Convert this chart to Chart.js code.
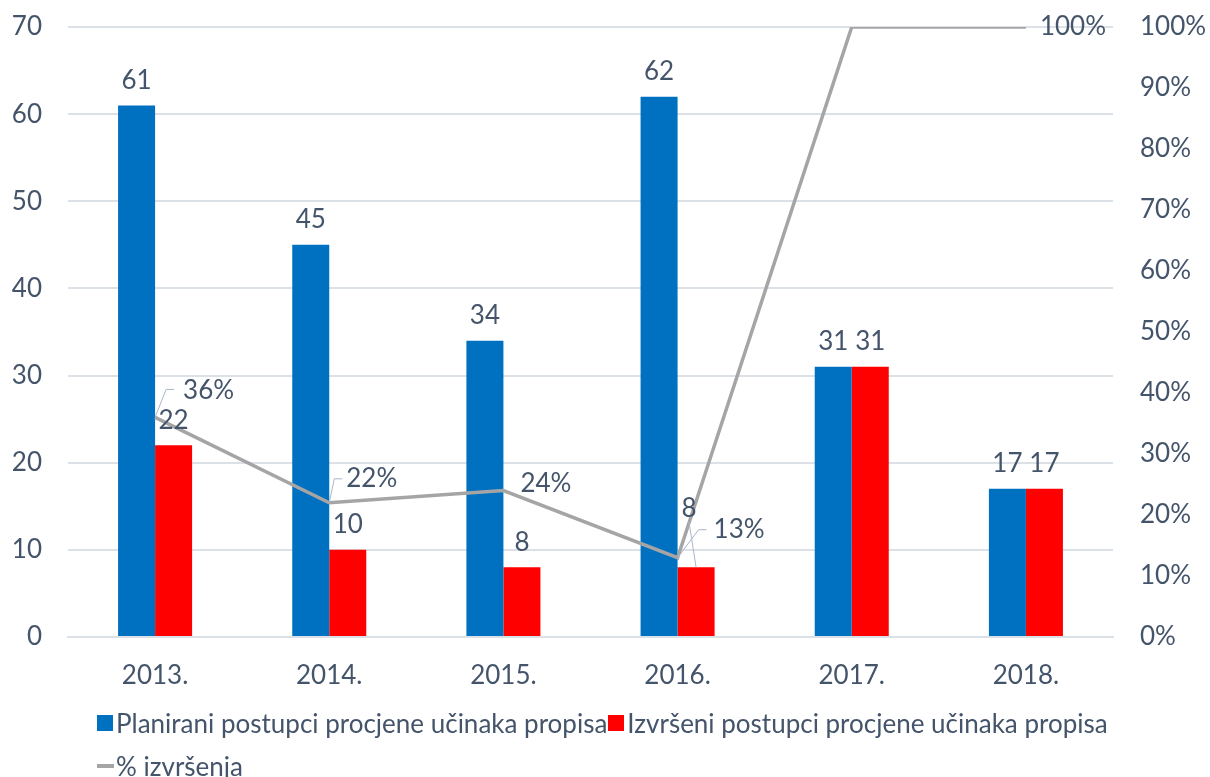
<!DOCTYPE html>
<html>
<head>
<meta charset="utf-8">
<script src="https://cdn.jsdelivr.net/npm/chart.js@4.4.0/dist/chart.umd.min.js"></script>
<style>
  html, body { margin: 0; padding: 0; background: #fff; }
  #wrap { position: relative; width: 1210px; height: 777px; }
  #legend { position: absolute; left: 97px; top: 707px; font-family: Lato, sans-serif; font-size: 26px; color: #44546A; }
  .row { display: flex; align-items: center; height: 32px; margin-bottom: 11px; white-space: nowrap; }
  .box { width: 16px; height: 16px; margin-right: 3px; }
  .ln { width: 17px; height: 4px; background: #A5A5A5; margin-right: 2px; }
  .item { display: flex; align-items: center; margin-right: 1px; }
</style>
</head>
<body>
<div id="wrap">
  <canvas id="chart" width="1210" height="777"></canvas>
  <div id="legend">
    <div class="row">
      <div class="item"><div class="box" style="background:#0070C0"></div>Planirani postupci procjene učinaka propisa</div>
      <div class="item"><div class="box" style="background:#FF0000"></div>Izvršeni postupci procjene učinaka propisa</div>
    </div>
    <div class="row">
      <div class="item"><div class="ln"></div>% izvršenja</div>
    </div>
  </div>
</div>
<script>
const years = ['2013.', '2014.', '2015.', '2016.', '2017.', '2018.'];
const planned = [61, 45, 34, 62, 31, 17];
const executed = [22, 10, 8, 8, 31, 17];
const percentDone = [36, 22, 24, 13, 100, 100];

const textColor = '#44546A';
const gridColor = '#DCE1E8';

// label nudges (where the original moved labels by hand)
const executedLabelShift = [[0, 0], [0, 0], [0, 0], [-7, -34], [0, 0], [0, 0]];
const pctLabelPos = [
  { lead: [11, -28], dx: 28, dy: -27 },
  { lead: [5, -24], dx: 17, dy: -24 },
  { lead: null, dx: 17, dy: -7 },
  { lead: [21, -28], dx: 36, dy: -28 },
  null,
  { lead: null, dx: 14, dy: 0 }
];

const labelPlugin = {
  id: 'labels',
  afterDatasetsDraw(chart) {
    const c = chart.ctx;
    c.save();
    c.font = '26px Lato';
    c.fillStyle = textColor;
    c.textBaseline = 'middle';

    const blue = chart.getDatasetMeta(0).data;
    const red = chart.getDatasetMeta(1).data;
    blue.forEach((b, i) => {
      c.textAlign = 'center';
      c.fillText(planned[i], b.x, b.y - 25);
    });
    red.forEach((b, i) => {
      const [sx, sy] = executedLabelShift[i];
      const lx = b.x + sx, ly = b.y - 25 + sy;
      if (sy < -30) {
        c.strokeStyle = '#A9B6CA';
        c.lineWidth = 1;
        c.beginPath();
        c.moveTo(lx, ly + 14);
        c.lineTo(b.x, b.y);
        c.stroke();
      }
      c.textAlign = 'center';
      c.fillText(executed[i], lx, ly);
    });

    const pts = chart.getDatasetMeta(2).data;
    pts.forEach((p, i) => {
      const pos = pctLabelPos[i];
      if (!pos) return;
      if (pos.lead) {
        c.strokeStyle = '#A9B6CA';
        c.lineWidth = 1;
        c.beginPath();
        c.moveTo(p.x, p.y);
        c.lineTo(p.x + pos.lead[0], p.y + pos.lead[1]);
        c.lineTo(p.x + pos.lead[0] + 8, p.y + pos.lead[1]);
        c.stroke();
      }
      c.textAlign = 'left';
      c.fillText(percentDone[i] + '%', p.x + pos.dx, p.y + pos.dy);
    });
    c.restore();
  }
};

function noVPad(s) {
  s.paddingTop = 0;
  s.paddingBottom = 0;
}

new Chart(document.getElementById('chart'), {
  data: {
    labels: years,
    datasets: [
      { type: 'bar', label: 'Planirani postupci procjene učinaka propisa', data: planned, backgroundColor: '#0070C0', yAxisID: 'y', barPercentage: 1, categoryPercentage: 0.425, order: 2 },
      { type: 'bar', label: 'Izvršeni postupci procjene učinaka propisa', data: executed, backgroundColor: '#FF0000', yAxisID: 'y', barPercentage: 1, categoryPercentage: 0.425, order: 2 },
      { type: 'line', label: '% izvršenja', data: percentDone, borderColor: '#A5A5A5', borderWidth: 3.5, pointRadius: 0, tension: 0, yAxisID: 'y1', order: 1 }
    ]
  },
  options: {
    responsive: false,
    animation: false,
    layout: { padding: { top: 27, bottom: 80, left: 0, right: 0 } },
    plugins: { legend: { display: false }, tooltip: { enabled: false } },
    scales: {
      x: {
        grid: { display: false, drawTicks: false },
        border: { color: gridColor, width: 2 },
        ticks: { color: textColor, font: { family: 'Lato', size: 26 }, padding: 23 },
        afterFit(s) { s.height = 60; }
      },
      y: {
        position: 'left',
        min: 0, max: 70,
        ticks: { stepSize: 10, color: textColor, font: { family: 'Lato', size: 26 }, padding: 26 },
        grid: { color: gridColor, lineWidth: 2, drawTicks: false },
        border: { display: false },
        afterFit(s) { s.width = 68; noVPad(s); }
      },
      y1: {
        position: 'right',
        min: 0, max: 100,
        ticks: { stepSize: 10, color: textColor, font: { family: 'Lato', size: 26 }, padding: 27, callback: v => v + '%' },
        grid: { display: false, drawTicks: false },
        border: { display: false },
        afterFit(s) { s.width = 97; noVPad(s); }
      }
    }
  },
  plugins: [labelPlugin]
});
</script>
</body>
</html>
